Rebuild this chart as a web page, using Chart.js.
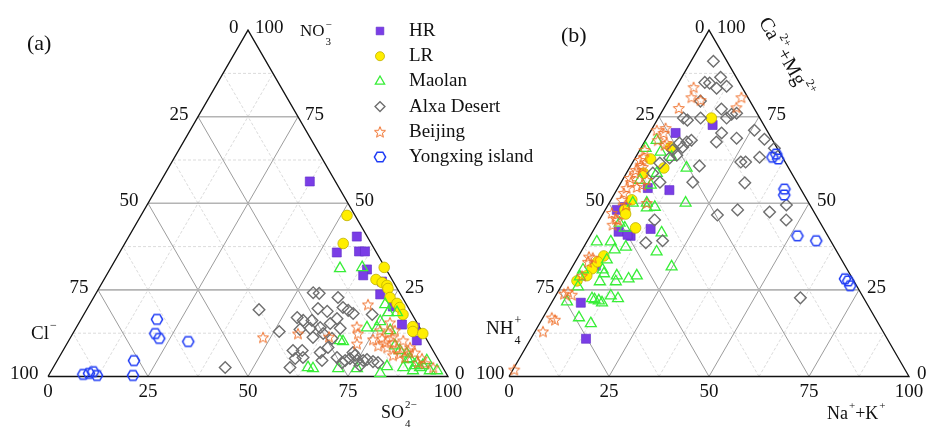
<!DOCTYPE html>
<html><head><meta charset="utf-8">
<script src="https://cdn.jsdelivr.net/npm/chart.js@4.4.1/dist/chart.umd.min.js"></script>
<style>html,body{margin:0;padding:0;background:#fff;}#wrap{position:relative;width:928px;height:427px;}canvas{display:block;}</style>
</head><body><div id="wrap"><canvas id="c" width="928" height="427"></canvas></div>
<script>
// ---- Tick / grid values ----
const tickValues = [0, 25, 50, 75, 100];
const majorGrid = [25, 50, 75];
const minorGrid = [12.5, 37.5, 62.5, 87.5];
const seriesNames = ['HR', 'LR', 'Maolan', 'Alxa Desert', 'Beijing', 'Yongxing island'];

// ---- (a) anions: [SO4 %, NO3 %]  (Cl = 100 - SO4 - NO3) ----
const hrA = [[37.3,56.3],[57.0,40.4],[54.3,35.8],[59.7,36.1],[61.2,36.1],[64.3,30.9],[64.2,29.2],[69.8,27.4],[71.2,23.7],[76.1,20.2],[81.0,15.0],[84.7,14.1],[87.0,10.4]];
const lrA = [[51.5,46.5],[54.6,38.4],[68.3,31.5],[68.0,28.0],[70.0,27.1],[71.6,26.3],[72.3,25.4],[74.1,22.8],[76.7,21.1],[78.0,19.9],[79.8,17.9],[84.0,14.4],[84.7,13.0],[87.5,12.4]];
const maolanA = [[57.4,31.2],[62.8,31.5],[73.9,20.8],[75.8,18.5],[75.1,15.9],[75.2,14.1],[72.7,14.1],[67.8,10.4],[68.7,10.1],[63.7,2.6],[65.1,2.3],[71.4,2.3],[76.1,2.3],[83.3,2.9],[82.6,0.9],[78.0,18.5],[78.9,13.3],[86.4,6.6],[87.9,5.2],[92.4,4.6],[91.7,2.6],[87.5,2.6],[90.4,1.7],[94.6,1.7],[96.4,1.7],[87.5,4.9],[90.2,4.0],[92.1,3.2],[90.1,3.2],[84.2,7.5],[82.3,8.9]];
const alxaA = [[43.1,19.3],[43.0,2.6],[51.3,13.0],[54.2,24.2],[55.8,24.0],[61.1,22.8],[57.7,19.6],[60.4,18.8],[63.8,19.9],[65.5,19.1],[67.2,18.2],[53.8,17.0],[55.7,16.2],[57.9,16.2],[63.9,16.7],[56.2,13.6],[58.6,13.9],[61.0,14.1],[62.9,15.3],[66.1,13.9],[62.6,12.4],[60.6,11.3],[65.5,11.0],[57.5,7.5],[59.8,7.5],[64.6,6.9],[65.8,8.4],[59.2,5.2],[61.0,5.5],[66.2,4.6],[59.2,2.6],[69.5,5.5],[72.0,4.6],[72.9,5.2],[73.7,6.1],[75.0,4.6],[76.5,4.6],[76.4,3.2],[77.3,4.9],[79.1,4.3],[80.5,4.0],[72.8,6.9],[71.5,4.0],[72.1,17.9]];
const beijingA = [[48.1,11.3],[56.3,12.4],[64.5,11.5],[69.6,20.8],[70.0,14.4],[71.3,12.4],[72.5,9.5],[75.9,10.7],[78.7,12.7],[80.4,11.3],[78.0,11.0],[81.4,9.8],[80.6,8.4],[83.2,8.1],[83.6,10.4],[84.7,6.6],[86.3,7.5],[86.3,8.4],[83.2,6.1],[90.9,5.2],[92.4,3.8],[90.5,4.0],[95.0,2.6],[76.4,13.3],[80.1,13.3],[79.4,9.8],[78.1,8.9],[86.5,5.5],[88.3,6.9],[77.7,15.6]];
const yongxingA = [[19.0,16.5],[20.6,12.4],[22.3,11.0],[30.0,10.1],[19.2,4.6],[21.1,0.3],[8.5,0.6],[9.8,0.9],[10.6,1.4],[12.1,0.3]];

// ---- (b) cations: [Na+K %, Ca+Mg %]  (NH4 = 100 - NaK - CaMg) ----
const hrB = [[6.5,70.3],[14.6,72.6],[13.2,53.8],[7.5,54.4],[14.1,42.6],[6.5,41.8],[10.1,40.6],[7.3,21.3],[13.8,10.9],[5.7,32.0],[2.9,48.1],[4.5,48.9],[9.2,40.9]];
const lrB = [[13.3,74.6],[7.3,66.2],[4.0,62.8],[8.6,60.2],[4.3,58.7],[5.2,51.0],[4.9,48.1],[10.2,42.9],[6.3,34.8],[5.2,31.1],[4.9,29.1],[3.2,27.6],[5.7,46.9],[5.6,33.1]];
const maolanB = [[2.8,68.2],[1.2,65.9],[5.5,64.8],[9.0,63.3],[14.3,60.2],[7.6,58.7],[7.8,55.3],[19.1,50.1],[9.4,50.1],[10.1,48.7],[17.4,41.5],[18.9,36.0],[24.8,31.7],[5.9,50.1],[12.0,48.9],[5.5,44.3],[7.5,42.9],[2.5,38.9],[6.0,38.9],[10.5,37.4],[7.6,33.7],[3.1,30.8],[8.9,29.7],[12.4,29.1],[15.8,28.2],[17.4,29.1],[3.3,28.8],[9.0,27.4],[13.0,27.4],[4.3,25.9],[3.7,21.6],[9.5,22.5],[11.5,21.9],[13.8,23.3],[16.0,22.5],[9.0,17.0],[12.8,15.3],[8.0,30.8],[8.1,36.6],[4.4,56.7],[10.3,22.2],[12.6,21.3]];
const alxaB = [[5.6,91.0],[9.7,86.4],[6.5,84.9],[7.8,84.7],[12.5,83.8],[10.3,83.2],[8.1,79.5],[14.5,77.2],[17.8,75.7],[6.3,74.6],[7.6,74.0],[10.6,74.6],[17.1,74.6],[18.9,76.0],[25.8,71.1],[18.0,70.3],[18.0,67.7],[22.5,68.8],[29.6,68.5],[33.4,65.9],[31.0,63.3],[11.5,68.2],[10.6,67.7],[8.9,67.4],[10.3,66.2],[27.0,61.9],[28.2,61.9],[17.2,60.8],[10.0,63.9],[8.6,63.1],[6.9,61.6],[17.9,56.1],[31.0,55.9],[44.6,49.5],[41.4,47.5],[46.7,45.2],[33.1,48.1],[28.8,46.6],[13.8,45.2],[14.9,38.6],[18.8,39.2],[61.5,22.7],[6.6,58.7],[9.7,56.1],[8.2,65.4]];
const beijingB = [[4.4,83.5],[5.3,80.6],[8.0,79.8],[3.7,77.5],[17.8,80.6],[18.0,77.7],[3.3,71.7],[3.5,70.3],[5.7,67.4],[1.4,71.1],[3.1,68.2],[5.5,66.8],[1.2,65.4],[2.0,63.3],[2.4,61.0],[1.9,59.6],[6.1,56.7],[2.4,56.1],[2.2,53.0],[2.7,51.0],[1.5,62.5],[3.2,60.5],[2.1,58.7],[4.6,54.7],[5.6,55.3],[2.2,54.4],[9.4,50.1],[4.6,45.2],[2.1,47.2],[4.0,43.8],[4.0,45.5],[3.8,34.3],[3.2,33.1],[2.7,34.6],[3.7,29.1],[2.5,24.5],[3.9,23.6],[1.8,23.9],[2.2,17.0],[3.3,16.4],[2.0,13.0],[0.3,2.0],[1.6,57.3],[4.5,49.5]];
const yongxingB = [[34.2,63.3],[34.7,64.2],[35.9,62.8],[41.8,54.1],[42.6,52.4],[51.8,40.6],[57.2,39.2],[69.9,28.2],[72.2,26.2],[71.0,27.6]];

// ---- geometry helpers ----
const R3 = Math.sqrt(3) / 2;
const OFF_A = 0, OFF_B = 115.25;
function tern(off, a, b) { return { x: off + a + b / 2, y: b * R3 }; }
function toXY(off, arr) { return arr.map(p => tern(off, p[0], p[1])); }
const GAP = { x: null, y: null };

function gridLines(vals, dir) {
  const out = [];
  [OFF_A, OFF_B].forEach(off => {
    vals.forEach(v => {
      if (dir === 'h' || dir === 'all') out.push(tern(off, 0, v), tern(off, 100 - v, v), GAP);
      if (dir === 's' || dir === 'all') {
        out.push(tern(off, v, 0), tern(off, v, 100 - v), GAP);
        out.push(tern(off, 100 - v, 0), tern(off, 0, 100 - v), GAP);
      }
    });
  });
  return out;
}
function outline() {
  const out = [];
  [OFF_A, OFF_B].forEach(off => { out.push(tern(off, 0, 0), tern(off, 100, 0), tern(off, 0, 100), tern(off, 0, 0), GAP); });
  return out;
}

// ---- custom marker images ----
function makeStar(color, R, r, lw) {
  const s = 2 * Math.ceil(R + lw + 1);
  const c = document.createElement('canvas'); c.width = c.height = s;
  const g = c.getContext('2d'); g.strokeStyle = color; g.lineWidth = lw; g.lineJoin = 'miter';
  g.beginPath();
  for (let i = 0; i < 10; i++) {
    const ang = -Math.PI / 2 + i * Math.PI / 5, rad = (i % 2) ? r : R;
    g.lineTo(s / 2 + rad * Math.cos(ang), s / 2 + 0.6 + rad * Math.sin(ang));
  }
  g.closePath(); g.stroke(); return c;
}
function makeHex(color, R, lw) {
  const s = 2 * Math.ceil(R + lw + 1);
  const c = document.createElement('canvas'); c.width = c.height = s;
  const g = c.getContext('2d'); g.strokeStyle = color; g.lineWidth = lw;
  g.beginPath();
  for (let i = 0; i < 6; i++) { const ang = i * Math.PI / 3; g.lineTo(s / 2 + R * Math.cos(ang), s / 2 + R * Math.sin(ang)); }
  g.closePath(); g.stroke(); return c;
}
const starImg = makeStar('#F0702A', 5.8, 2.5, 1.0);
const hexImg = makeHex('#1F3CF5', 5.6, 1.5);

const styles = [
  { pointStyle: 'rect', radius: 6.4, bg: '#7A3DE6', bc: '#5E2CC8', bw: 0.6 },
  { pointStyle: 'circle', radius: 5.3, bg: '#FFEE00', bc: '#BFB000', bw: 0.8 },
  { pointStyle: 'triangle', radius: 6.3, bg: 'rgba(0,0,0,0)', bc: '#38EE38', bw: 1.3 },
  { pointStyle: 'rectRot', radius: 5.8, bg: 'rgba(0,0,0,0)', bc: '#6E6E6E', bw: 1.4 },
  { pointStyle: starImg, radius: 6, bg: 'rgba(0,0,0,0)', bc: '#F0702A', bw: 1 },
  { pointStyle: hexImg, radius: 6, bg: 'rgba(0,0,0,0)', bc: '#1F3CF5', bw: 1.5 }
];
const seriesData = [
  [hrA, hrB], [lrA, lrB], [maolanA, maolanB], [alxaA, alxaB], [beijingA, beijingB], [yongxingA, yongxingB]
];

const datasets = [];
datasets.push({ data: gridLines(minorGrid, 'all'), showLine: true, pointRadius: 0, borderColor: '#d2d2d2', borderWidth: 0.8, borderDash: [3, 2], fill: false, order: 100 });
datasets.push({ data: gridLines(majorGrid, 's'), showLine: true, pointRadius: 0, borderColor: '#9c9c9c', borderWidth: 1, fill: false, order: 99 });
datasets.push({ data: gridLines(majorGrid, 'h'), showLine: true, pointRadius: 0, borderColor: '#b4b4b4', borderWidth: 1.6, fill: false, order: 98 });
datasets.push({ data: outline(), showLine: true, pointRadius: 0, borderColor: '#111', borderWidth: 1.3, fill: false, order: 97 });
seriesData.forEach((sd, i) => {
  const st = styles[i];
  datasets.push({
    label: seriesNames[i],
    data: toXY(OFF_A, sd[0]).concat(toXY(OFF_B, sd[1])),
    pointStyle: st.pointStyle, pointRadius: st.radius, pointBackgroundColor: st.bg,
    pointBorderColor: st.bc, pointBorderWidth: st.bw, showLine: false, order: 6 - i
  });
});

// ---- text helpers ----
const FONT = '"Liberation Serif", "Times New Roman", serif';
function drawFormula(ctx, x, y, size, segs) {
  let cx = x; const small = Math.round(size * 0.62);
  segs.forEach(s => {
    if (s[1] === 'n') { ctx.font = size + 'px ' + FONT; ctx.fillText(s[0], cx, y); cx += ctx.measureText(s[0]).width; }
    else if (s[1] === 'sup') { ctx.font = small + 'px ' + FONT; ctx.fillText(s[0], cx + 1, y - size * 0.42); cx += ctx.measureText(s[0]).width + 1; }
    else if (s[2] === 'pair') {
      ctx.font = small + 'px ' + FONT;
      const w1 = ctx.measureText(s[0]).width, w2 = ctx.measureText(s[1]).width;
      ctx.fillText(s[0], cx + 1, y + size * 0.6);
      ctx.fillText(s[1], cx + 1, y - size * 0.42);
      cx += Math.max(w1, w2) + 1;
    }
  });
  return cx - x;
}

const labelPlugin = {
  id: 'ternLabels',
  afterDraw(chart) {
    const ctx = chart.ctx, xs = chart.scales.x, ys = chart.scales.y;
    const P = (off, a, b) => { const p = tern(off, a, b); return [xs.getPixelForValue(p.x), ys.getPixelForValue(p.y)]; };
    ctx.save();
    ctx.fillStyle = '#111';
    ctx.textBaseline = 'middle';
    ctx.font = '19px ' + FONT;
    [[OFF_A, -9.5, 7], [OFF_B, -4.5, 8]].forEach(([off, dl, dr]) => {
      tickValues.forEach(v => {
        let [x, y] = P(off, v, 0); ctx.textAlign = 'center'; ctx.fillText(String(v), x, y + 16);
        [x, y] = P(off, 0, 100 - v); ctx.textAlign = 'right'; ctx.fillText(String(v), x + dl, y - 2);
        [x, y] = P(off, 100 - v, v); ctx.textAlign = 'left'; ctx.fillText(String(v), x + dr, y - 2);
      });
    });
    ctx.textAlign = 'left';
    ctx.font = '22px ' + FONT;
    ctx.fillText('(a)', 27, 44);
    ctx.fillText('(b)', 561, 36);
    drawFormula(ctx, 300, 32, 17, [['NO', 'n'], ['3', '\u2212', 'pair']]);
    drawFormula(ctx, 31, 334, 19, [['Cl', 'n'], ['\u2212', 'sup']]);
    drawFormula(ctx, 381, 413, 18, [['SO', 'n'], ['4', '2\u2212', 'pair']]);
    drawFormula(ctx, 486, 329, 19, [['NH', 'n'], ['4', '+', 'pair']]);
    drawFormula(ctx, 827, 414, 18, [['Na', 'n'], ['+', 'sup'], ['+K', 'n'], ['+', 'sup']]);
    ctx.save();
    ctx.translate(763, 19);
    ctx.rotate(Math.PI / 3);
    drawFormula(ctx, 0, 0, 20, [['Ca', 'n'], ['2+', 'sup'], ['+Mg', 'n'], ['2+', 'sup']]);
    ctx.restore();
    const lx = 380, ly0 = 31, dy = 25.2;
    seriesNames.forEach((name, i) => {
      const st = styles[i], y = ly0 + i * dy;
      ctx.save();
      ctx.fillStyle = st.bg; ctx.strokeStyle = st.bc; ctx.lineWidth = st.bw;
      Chart.helpers.drawPoint(ctx, { pointStyle: st.pointStyle, radius: st.radius * 0.85, borderWidth: st.bw, rotation: 0 }, lx, y);
      ctx.restore();
      ctx.font = '19px ' + FONT; ctx.fillStyle = '#111'; ctx.textAlign = 'left';
      ctx.fillText(name, 409, y);
    });
    ctx.restore();
  }
};

Chart.defaults.font.family = FONT;
new Chart(document.getElementById('c'), {
  type: 'scatter',
  data: { datasets },
  options: {
    responsive: false, animation: false, events: [], devicePixelRatio: 1,
    layout: { padding: 0, autoPadding: false },
    plugins: { legend: { display: false }, tooltip: { enabled: false } },
    scales: {
      x: { type: 'linear', display: false, min: -12, max: 220 },
      y: { type: 'linear', display: false, min: -12.625, max: 94.125 }
    }
  },
  plugins: [labelPlugin]
});
</script></body></html>
